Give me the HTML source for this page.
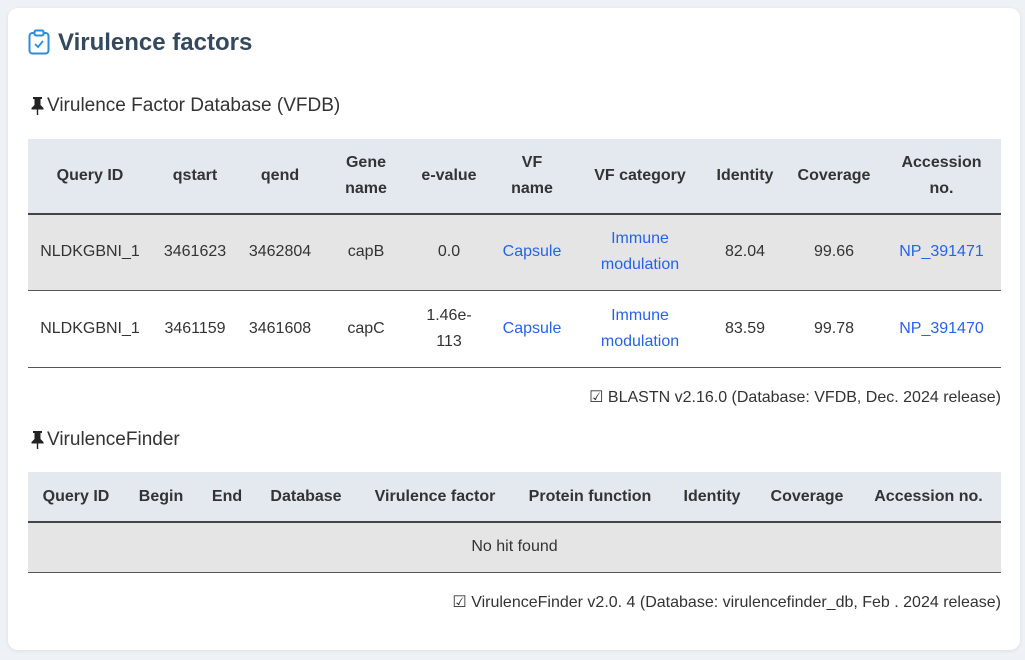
<!DOCTYPE html>
<html><head><meta charset="utf-8"><style>
*{box-sizing:border-box;margin:0;padding:0}
body{width:1025px;height:660px;background:#eef1f5;font-family:"Liberation Sans",Arial,sans-serif;color:#333;position:relative;overflow:hidden}
.card{position:absolute;left:8px;top:8px;width:1012px;height:642px;background:#fff;border-radius:10px;box-shadow:0 1px 4px rgba(0,0,0,.08)}
.abs{position:absolute}
h1{position:absolute;left:58px;top:29px;font-size:24px;font-weight:bold;color:#34495e}
.sub{font-size:19px;color:#333}
table{position:absolute;left:28px;border-collapse:collapse;table-layout:fixed;font-size:16px}
th{background:#e4e8ef;font-weight:bold;color:#333;text-align:center;line-height:26px;border-bottom:2px solid #444}
td{text-align:center;line-height:26px;border-bottom:1px solid #555}
tr.g td{background:#e5e5e5}
a{color:#2563eb;text-decoration:none}
.note{position:absolute;right:24px;font-size:16px;color:#333}
</style></head><body>
<div class="card"></div>
<svg class="abs" style="left:28px;top:29px" width="22" height="26" viewBox="0 0 22 26"><rect x="1.5" y="4" width="19" height="20.5" rx="3" fill="none" stroke="#2b8ce0" stroke-width="2"/><rect x="6.5" y="1.5" width="9" height="5" rx="1.5" fill="#fff" stroke="#2b8ce0" stroke-width="2"/><path d="M7 15l3 3 5-6" fill="none" stroke="#2b8ce0" stroke-width="1.8"/></svg>
<h1>Virulence factors</h1>
<svg class="abs" style="left:30px;top:96px" width="15" height="20" viewBox="0 0 15 20"><path d="M3 1h9v2h-1.5v6l3 3v1.5H1.5V12l3-3V3H3z" fill="#222"/><rect x="6.8" y="13" width="1.4" height="6" fill="#222"/></svg>
<div class="abs sub" style="left:47px;top:95px">Virulence Factor Database (VFDB)</div>
<table style="top:139px;width:973px">
<colgroup><col style="width:124px"><col style="width:86px"><col style="width:84px"><col style="width:88px"><col style="width:78px"><col style="width:88px"><col style="width:128px"><col style="width:82px"><col style="width:96px"><col style="width:119px"></colgroup>
<tr style="height:75px"><th>Query ID</th><th>qstart</th><th>qend</th><th>Gene<br>name</th><th>e-value</th><th>VF<br>name</th><th>VF category</th><th>Identity</th><th>Coverage</th><th>Accession<br>no.</th></tr>
<tr class="g" style="height:76px"><td>NLDKGBNI_1</td><td>3461623</td><td>3462804</td><td>capB</td><td>0.0</td><td><a>Capsule</a></td><td><a>Immune<br>modulation</a></td><td>82.04</td><td>99.66</td><td><a>NP_391471</a></td></tr>
<tr style="height:77px"><td>NLDKGBNI_1</td><td>3461159</td><td>3461608</td><td>capC</td><td>1.46e-<br>113</td><td><a>Capsule</a></td><td><a>Immune<br>modulation</a></td><td>83.59</td><td>99.78</td><td><a>NP_391470</a></td></tr>
</table>
<div class="note" style="top:387px">&#9745; BLASTN v2.16.0 (Database: VFDB, Dec. 2024 release)</div>
<svg class="abs" style="left:30px;top:430px" width="15" height="20" viewBox="0 0 15 20"><path d="M3 1h9v2h-1.5v6l3 3v1.5H1.5V12l3-3V3H3z" fill="#222"/><rect x="6.8" y="13" width="1.4" height="6" fill="#222"/></svg>
<div class="abs sub" style="left:47px;top:429px">VirulenceFinder</div>
<table style="top:472px;width:973px">
<colgroup><col style="width:96px"><col style="width:74px"><col style="width:58px"><col style="width:100px"><col style="width:158px"><col style="width:152px"><col style="width:92px"><col style="width:98px"><col style="width:145px"></colgroup>
<tr style="height:50px"><th>Query ID</th><th>Begin</th><th>End</th><th>Database</th><th>Virulence factor</th><th>Protein function</th><th>Identity</th><th>Coverage</th><th>Accession no.</th></tr>
<tr class="g" style="height:50px"><td colspan="9">No hit found</td></tr>
</table>
<div class="note" style="top:592px">&#9745; VirulenceFinder v2.0. 4 (Database: virulencefinder_db, Feb . 2024 release)</div>
</body></html>
